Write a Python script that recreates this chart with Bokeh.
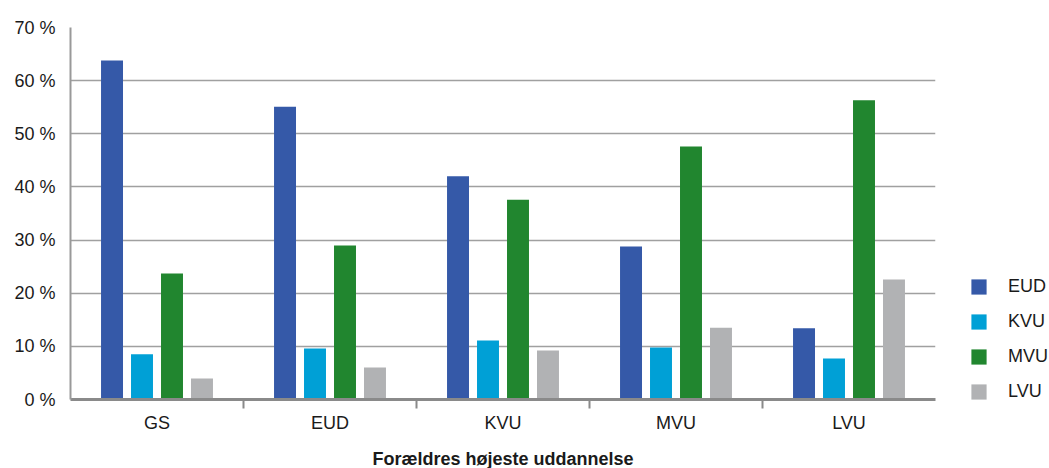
from bokeh.plotting import figure
from bokeh.models import FixedTicker, Legend, LegendItem, Range1d
from bokeh.embed import file_html
from bokeh.resources import INLINE

categories = ["GS", "EUD", "KVU", "MVU", "LVU"]
series_names = ["EUD", "KVU", "MVU", "LVU"]
eud = [63.8, 55.1, 42.0, 28.8, 13.4]
kvu = [8.5, 9.6, 11.1, 9.8, 7.7]
mvu = [23.7, 29.0, 37.6, 47.6, 56.3]
lvu = [3.95, 6.0, 9.2, 13.5, 22.6]
y_ticks = [0, 10, 20, 30, 40, 50, 60, 70]
y_tick_labels = ["0 %", "10 %", "20 %", "30 %", "40 %", "50 %", "60 %", "70 %"]
x_title = "Forældres højeste uddannelse"

colors = ["#3559A8", "#00A0D6", "#21862F", "#B1B2B4"]
offsets = [-0.26, -0.0867, 0.0867, 0.26]
bar_w = 0.127
FONT = "Liberation Sans"

p = figure(frame_width=865, frame_height=372, output_backend="svg",
           toolbar_location=None, x_range=Range1d(0, 5), y_range=Range1d(0, 70),
           min_border_left=70, min_border_right=0, min_border_top=27,
           min_border_bottom=60)
p.outline_line_color = None
p.xgrid.grid_line_color = None
p.ygrid.grid_line_color = "#A0A0A0"
p.ygrid.grid_line_width = 1.5

renderers = []
for vals, c, off in zip([eud, kvu, mvu, lvu], colors, offsets):
    xs = [i + 0.5 + off for i in range(len(categories))]
    r = p.vbar(x=xs, top=vals, bottom=0, width=bar_w, fill_color=c, line_color=None)
    renderers.append(r)

# y axis
p.yaxis.ticker = FixedTicker(ticks=y_ticks)
p.yaxis.major_label_overrides = {t: l for t, l in zip(y_ticks, y_tick_labels)}
p.yaxis.major_tick_line_color = None
p.yaxis.minor_tick_line_color = None
p.yaxis.axis_line_color = "#999999"
p.yaxis.axis_line_width = 2
p.yaxis.major_label_text_font = FONT
p.yaxis.major_label_text_font_size = "18px"
p.yaxis.major_label_text_color = "#1a1a1a"
p.yaxis.major_label_standoff = 9

# x axis
centers = [i + 0.5 for i in range(len(categories))]
p.xaxis.ticker = FixedTicker(ticks=centers, minor_ticks=[1, 2, 3, 4])
p.xaxis.major_label_overrides = {c: l for c, l in zip(centers, categories)}
p.xaxis.major_tick_line_color = None
p.xaxis.minor_tick_line_color = "#8a8a8a"
p.xaxis.minor_tick_line_width = 2
p.xaxis.minor_tick_out = 9
p.xaxis.minor_tick_in = 0
p.xaxis.axis_line_color = "#8a8a8a"
p.xaxis.axis_line_width = 3
p.xaxis.major_label_text_font = FONT
p.xaxis.major_label_text_font_size = "18px"
p.xaxis.major_label_text_color = "#1a1a1a"
p.xaxis.major_label_standoff = 4
p.xaxis.axis_label = x_title
p.xaxis.axis_label_text_font = FONT
p.xaxis.axis_label_text_font_size = "18px"
p.xaxis.axis_label_text_font_style = "bold"
p.xaxis.axis_label_text_color = "#1a1a1a"
p.xaxis.axis_label_standoff = 13

legend = Legend(items=[LegendItem(label=n, renderers=[r]) for n, r in zip(series_names, renderers)],
                location=(34, -3), padding=0, margin=0, spacing=14,
                glyph_width=19, glyph_height=19, label_height=19,
                label_standoff=20, border_line_color=None, background_fill_alpha=0,
                label_text_font=FONT, label_text_font_size="18px",
                label_text_color="#1a1a1a")
p.add_layout(legend, "right")

open("out.html", "w").write(file_html(p, INLINE))
